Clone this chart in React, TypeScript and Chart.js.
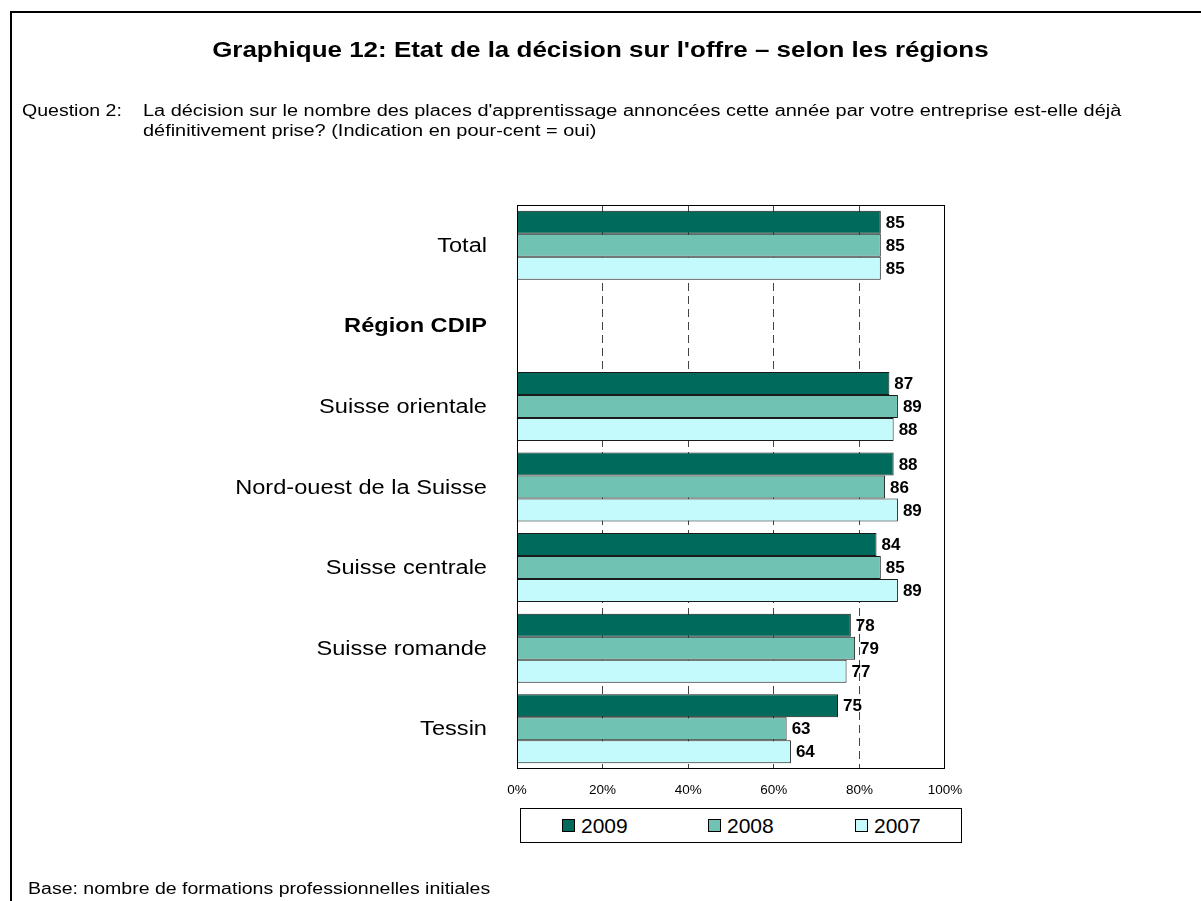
import React, { useEffect, useRef } from "react";
import { Chart, registerables } from "chart.js";

Chart.register(...registerables);

const categories = [
  "Total",
  "Région CDIP",
  "Suisse orientale",
  "Nord-ouest de la Suisse",
  "Suisse centrale",
  "Suisse romande",
  "Tessin",
];
const boldCategories = ["Région CDIP"];
const seriesLabels = ["2009", "2008", "2007"];
const values2009 = [85, null, 87, 88, 84, 78, 75];
const values2008 = [85, null, 89, 86, 85, 79, 63];
const values2007 = [85, null, 88, 89, 89, 77, 64];
const seriesColors = ["#006B5D", "#70C3B3", "#C4FAFC"];
const xTickStep = 20;
const xMin = 0;
const xMax = 100;

const titleText = "Graphique 12: Etat de la décision sur l'offre – selon les régions";
const questionLabel = "Question 2:";
const questionLines = [
  "La décision sur le nombre des places d'apprentissage annoncées cette année par votre entreprise est-elle déjà",
  "définitivement prise? (Indication en pour-cent = oui)",
];
const footnote = "Base: nombre de formations professionnelles initiales";

const FONT = '"Liberation Sans", Arial, Helvetica, sans-serif';

const chartDecor = {
  id: "chartDecor",
  afterDatasetsDraw(chart: any) {
    const ctx = chart.ctx;
    ctx.save();
    const { left, top, right, bottom } = chart.chartArea;
    // plot frame
    ctx.strokeStyle = "#000";
    ctx.lineWidth = 1;
    ctx.strokeRect(left + 0.5, top + 0.5, right - left - 1, bottom - top - 1);
    // value labels
    ctx.font = `bold 17px ${FONT}`;
    ctx.fillStyle = "#000";
    ctx.textBaseline = "middle";
    ctx.textAlign = "left";
    chart.data.datasets.forEach((ds: any, i: number) => {
      const meta = chart.getDatasetMeta(i);
      meta.data.forEach((bar: any, j: number) => {
        const v = ds.data[j];
        if (v === null || v === undefined) return;
        ctx.fillText(String(v), bar.x + 5, bar.y + 1);
      });
    });
    // category labels (slightly widened like the original rendering)
    const yScale = chart.scales.y;
    const labels: string[] = chart.data.labels;
    ctx.textAlign = "right";
    labels.forEach((lab, i) => {
      const y = yScale.getPixelForValue(i);
      ctx.save();
      ctx.translate(left - 30, y + 1);
      ctx.scale(1.18, 1);
      ctx.font = `${boldCategories.includes(lab) ? "bold " : ""}20px ${FONT}`;
      ctx.fillText(lab, 0, 0);
      ctx.restore();
    });
    ctx.restore();
  },
};

export default function App() {
  const canvasRef = useRef<HTMLCanvasElement | null>(null);

  useEffect(() => {
    if (!canvasRef.current) return;
    const allValues = [values2009, values2008, values2007];
    const chart = new Chart(canvasRef.current, {
      type: "bar",
      data: {
        labels: categories,
        datasets: seriesLabels.map((label, i) => ({
          label,
          data: allValues[i],
          backgroundColor: seriesColors[i],
          borderColor: "#1a1a1a",
          borderWidth: 1,
          barPercentage: 1,
          categoryPercentage: 0.856,
        })),
      },
      options: {
        indexAxis: "y",
        responsive: false,
        animation: false,
        events: [],
        layout: { padding: { top: 205, right: 256, bottom: 92, left: 0 } },
        plugins: {
          legend: { display: false },
          title: { display: false },
          tooltip: { enabled: false },
        },
        scales: {
          x: {
            min: xMin,
            max: xMax,
            ticks: {
              stepSize: xTickStep,
              callback: (v: any) => `${v}%`,
              font: { family: FONT, size: 13.5 },
              color: "#000",
              padding: 13,
              maxRotation: 0,
            },
            grid: {
              drawTicks: false,
              lineWidth: 1,
              color: (c: any) =>
                c.tick && (c.tick.value === xMin || c.tick.value === xMax)
                  ? "rgba(0,0,0,0)"
                  : "#444",
            },
            border: { display: false, dash: [8, 5] },
            afterFit: (s: any) => {
              s.height = 40;
            },
          },
          y: {
            ticks: { display: false },
            grid: { display: false, drawTicks: false },
            border: { display: false },
            afterFit: (s: any) => {
              s.width = 517;
            },
          },
        },
      },
      plugins: [chartDecor],
    } as any);
    return () => chart.destroy();
  }, []);

  const abs = (style: React.CSSProperties): React.CSSProperties => ({
    position: "absolute",
    fontFamily: FONT,
    color: "#000",
    whiteSpace: "nowrap",
    ...style,
  });

  const legendX = [562, 708, 855];

  return (
    <div style={{ position: "absolute", left: 0, top: 0, width: 1201, height: 901, overflow: "hidden", background: "#fff" }}>
      <div style={{ position: "absolute", left: 10, top: 11, width: 1300, height: 1000, borderLeft: "2px solid #000", borderTop: "2px solid #000" }} />
      <canvas ref={canvasRef} width={1201} height={901} style={{ position: "absolute", left: 0, top: 0, width: 1201, height: 901 }} />
      <div style={abs({ left: 0, top: 37, width: 1201, textAlign: "center", fontSize: 22, fontWeight: "bold", lineHeight: "26px", transform: "scaleX(1.18)", transformOrigin: "601px 50%" })}>
        {titleText}
      </div>
      <div style={abs({ left: 22, top: 101, fontSize: 16, lineHeight: "20px", transform: "scaleX(1.22)", transformOrigin: "left center" })}>{questionLabel}</div>
      <div style={abs({ left: 143, top: 101, fontSize: 16, lineHeight: "20px", transform: "scaleX(1.245)", transformOrigin: "left center" })}>
        {questionLines.map((l, i) => (
          <div key={i}>{l}</div>
        ))}
      </div>
      <div style={abs({ left: 520, top: 808, width: 440, height: 33, border: "1px solid #000", background: "#fff" })}>
        {seriesLabels.map((s, i) => (
          <div key={s} style={abs({ left: legendX[i] - 521, top: 0, height: 33, display: "flex", alignItems: "center" })}>
            <span style={{ display: "inline-block", width: 11, height: 11, background: seriesColors[i], border: "1px solid #000", marginRight: 6 }} />
            <span style={{ fontSize: 21, lineHeight: "33px" }}>{s}</span>
          </div>
        ))}
      </div>
      <div style={abs({ left: 28, top: 879, fontSize: 16, lineHeight: "20px", transform: "scaleX(1.22)", transformOrigin: "left center" })}>{footnote}</div>
    </div>
  );
}
